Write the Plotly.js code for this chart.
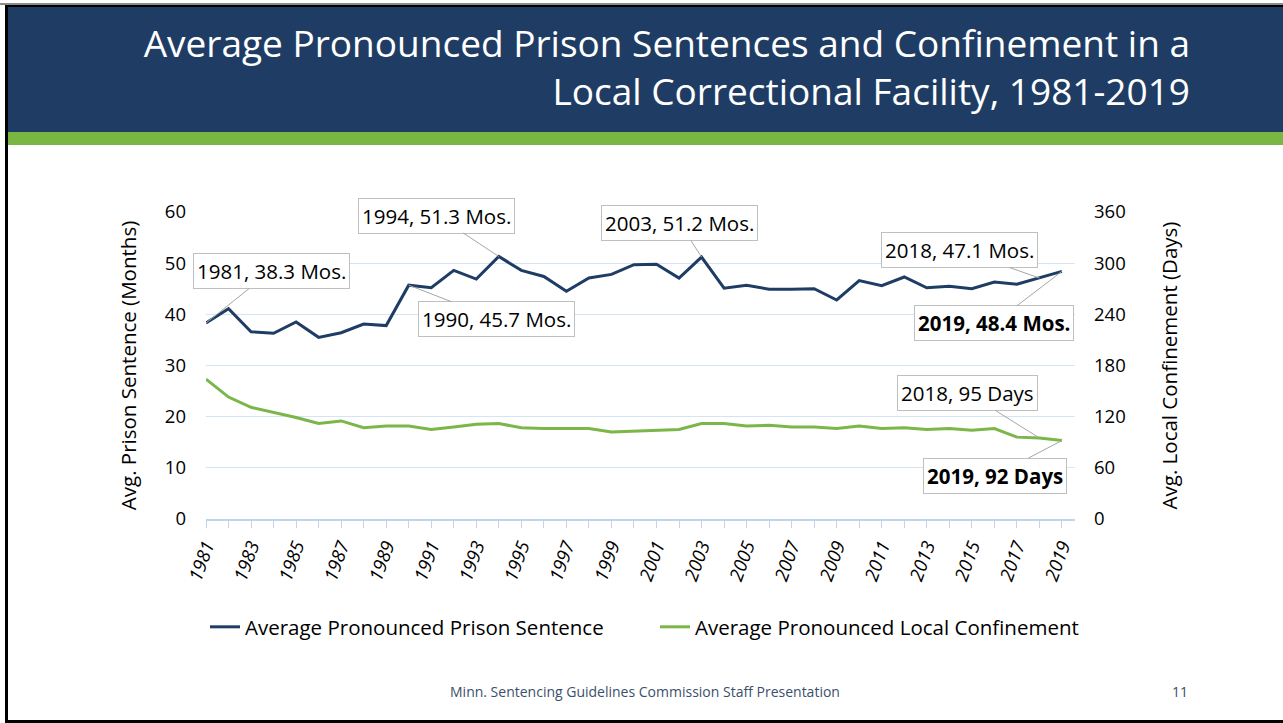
<!DOCTYPE html>
<html>
<head>
<meta charset="utf-8">
<script src="https://cdn.plot.ly/plotly-3.0.1.min.js"></script>
<style>
  html, body { margin: 0; padding: 0; width: 1283px; height: 723px; overflow: hidden; background: #ffffff; }
  #topgray { position: absolute; left: 0; top: 3px; width: 1283px; height: 2px; background: #8c8c8c; }
  #topblack { position: absolute; left: 5px; top: 5px; width: 1278px; height: 2px; background: #000; }
  #band { position: absolute; left: 8px; top: 7px; width: 1275px; height: 125px; background: #1F3D64; }
  #green { position: absolute; left: 8px; top: 132px; width: 1275px; height: 13px; background: #7AB642; }
  #leftblack { position: absolute; left: 5px; top: 5px; width: 3px; height: 718px; background: #000; }
  #bottomblack { position: absolute; left: 5px; top: 720px; width: 1278px; height: 3px; background: #000; }
  #chart { position: absolute; left: 0; top: 0; width: 1283px; height: 723px; }
</style>
</head>
<body>
<div id="topgray"></div>
<div id="topblack"></div>
<div id="band"></div>
<div id="green"></div>
<div id="leftblack"></div>
<div id="bottomblack"></div>
<div id="chart"></div>
<script>
const years = [1981,1982,1983,1984,1985,1986,1987,1988,1989,1990,
               1991,1992,1993,1994,1995,1996,1997,1998,1999,2000,
               2001,2002,2003,2004,2005,2006,2007,2008,2009,2010,
               2011,2012,2013,2014,2015,2016,2017,2018,2019];
const prisonMonths = [38.3,41.1,36.6,36.3,38.5,35.5,36.4,38.1,37.8,45.7,
                      45.2,48.6,46.9,51.3,48.6,47.4,44.5,47.1,47.8,49.7,
                      49.8,47.1,51.2,45.1,45.7,44.9,44.9,45.0,42.8,46.6,
                      45.6,47.3,45.2,45.5,45.0,46.3,45.9,47.1,48.4];
const localDays = [164,143,131,125,119,112,115,107,109,109,
                   105,108,111,112,107,106,106,106,102,103,
                   104,105,112,112,109,110,108,108,106,109,
                   106,107,105,106,104,106,96,95,92];
const seriesNames = ["Average Pronounced Prison Sentence", "Average Pronounced Local Confinement"];
const titleText = "Average Pronounced Prison Sentences and Confinement in a<br>Local Correctional Facility, 1981-2019";
const leftAxisTitle = "Avg. Prison Sentence (Months)";
const rightAxisTitle = "Avg. Local Confinement (Days)";
const footerText = "Minn. Sentencing Guidelines Commission Staff Presentation";
const slideNumber = "11";

// labelled points: [year, ax, ay, bold]
const prisonLabels = [[1981, 65, -52, false],[1990, 88, 34, false],[1994, -62, -41, false],
                      [2003, -22, -34, false],[2018, -80, -28, false],[2019, -68, 52, true]];
const localLabels = [[2018, -72, -45, false],[2019, -67, 35, true]];

const navy = "#1F3D64";
const green = "#7AB648";
const gridColor = "#D5E4F2";
const axisColor = "#BCD5EC";
const FONT = "Open Sans, Liberation Sans, sans-serif";

const traces = [
  {x: years, y: prisonMonths, type: "scatter", mode: "lines", name: seriesNames[0],
   line: {color: navy, width: 3}, yaxis: "y", legend: "legend"},
  {x: years, y: localDays, type: "scatter", mode: "lines", name: seriesNames[1],
   line: {color: green, width: 3}, yaxis: "y2", legend: "legend2"}
];

const annotations = [];
function addLabel(yr, ax, ay, bold, arr, unit, yref) {
  const i = years.indexOf(yr);
  const v = arr[i];
  const t = yr + ", " + v + " " + unit;
  annotations.push({
    x: yr, y: v, xref: "x", yref: yref,
    text: bold ? "<b>" + t + "</b>" : t,
    showarrow: true, arrowhead: 0, arrowwidth: 1, arrowcolor: "#A6A6A6",
    ax: ax, ay: ay, standoff: 0,
    bgcolor: "#ffffff", bordercolor: "#BFBFBF", borderwidth: 1, borderpad: 3,
    font: {family: FONT, size: 20.5, color: "#000"}
  });
}
prisonLabels.forEach(l => addLabel(l[0], l[1], l[2], l[3], prisonMonths, "Mos.", "y"));
localLabels.forEach(l => addLabel(l[0], l[1], l[2], l[3], localDays, "Days", "y2"));

annotations.push({xref: "paper", yref: "paper", x: (645 - 206) / 869, y: (519 - 691) / 307,
  xanchor: "center", yanchor: "middle", showarrow: false, text: footerText,
  font: {family: FONT, size: 14, color: "#3B4F6B"}});
annotations.push({xref: "paper", yref: "paper", x: (1180 - 206) / 869, y: (519 - 691) / 307,
  xanchor: "center", yanchor: "middle", showarrow: false, text: slideNumber,
  font: {family: FONT, size: 14, color: "#3B4F6B"}});

const legendBase = {orientation: "h", xref: "container", yref: "container", xanchor: "left",
  y: 1 - 627 / 723, yanchor: "middle", font: {family: FONT, size: 20.5, color: "#000"},
  bgcolor: "rgba(0,0,0,0)", itemwidth: 30};

const layout = {
  width: 1283, height: 723,
  paper_bgcolor: "rgba(0,0,0,0)", plot_bgcolor: "rgba(0,0,0,0)",
  margin: {l: 206, r: 208, t: 212, b: 204, pad: 0},
  showlegend: true,
  title: {text: titleText, font: {family: FONT, size: 37, color: "#ffffff"},
          xref: "container", yref: "container", x: 1190 / 1283, xanchor: "right",
          y: 1 - 57 / 723, yanchor: "middle"},
  xaxis: {range: [1981, 2019.58], tick0: 1981, dtick: 2, tickmode: "linear",
          showgrid: false, zeroline: false, showline: true, linecolor: axisColor, linewidth: 2,
          ticks: "outside", ticklen: 7, tickcolor: axisColor, tickwidth: 1,
          minor: {dtick: 1, tick0: 1981, ticks: "outside", ticklen: 7, tickcolor: axisColor, tickwidth: 1, showgrid: false},
          tickangle: -70, tickfont: {family: FONT, size: 18.5, color: "#000", style: "italic"}},
  yaxis: {range: [0, 60], dtick: 10, tick0: 0, showgrid: true, gridcolor: gridColor, gridwidth: 1,
          zeroline: false, showline: false, ticks: "", ticklabelstandoff: 19,
          tickfont: {family: FONT, size: 18.5, color: "#000"},
          title: {text: leftAxisTitle, font: {family: FONT, size: 20.5, color: "#000"}, standoff: 22}},
  yaxis2: {range: [0, 360], dtick: 60, tick0: 0, overlaying: "y", side: "right", showgrid: false,
           zeroline: false, showline: false, ticks: "", ticklabelstandoff: 18,
           tickfont: {family: FONT, size: 18.5, color: "#000"},
           title: {text: rightAxisTitle, font: {family: FONT, size: 20.5, color: "#000"}, standoff: 37}},
  legend: Object.assign({}, legendBase, {x: 205 / 1283}),
  legend2: Object.assign({}, legendBase, {x: 655 / 1283}),
  annotations: annotations
};

Plotly.newPlot("chart", traces, layout, {staticPlot: true, displayModeBar: false});
</script>
</body>
</html>
